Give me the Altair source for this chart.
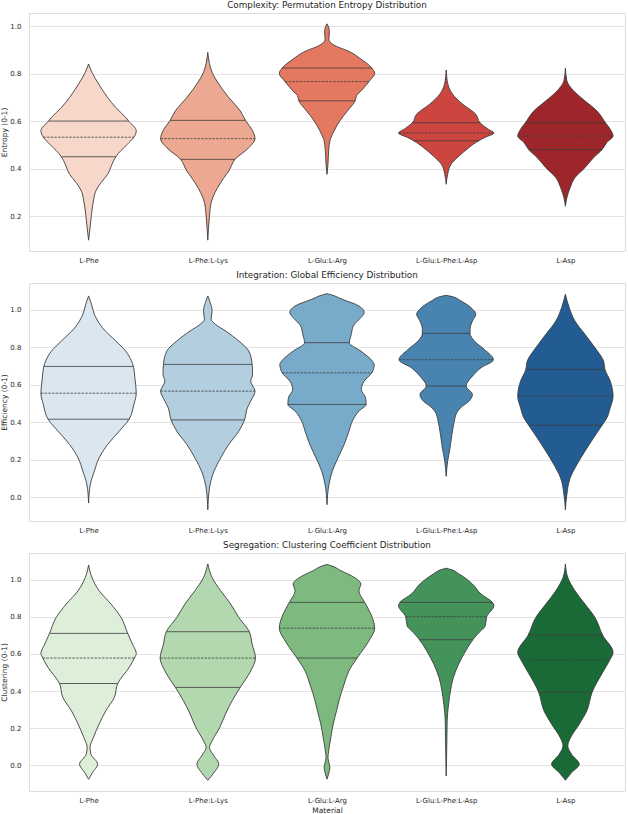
import json
import altair as alt
import pandas as pd

MATERIALS = ["L-Phe", "L-Phe:L-Lys", "L-Glu:L-Arg", "L-Glu:L-Phe:L-Asp", "L-Asp"]

# ---------- Panel 1: permutation entropy (value, relative half-width 0-1) ----------
ENT_PHE_Y = [0.100, 0.152, 0.208, 0.264, 0.306, 0.342, 0.377, 0.419, 0.451, 0.503, 0.533, 0.560, 0.601, 0.616, 0.658, 0.700, 0.757, 0.806, 0.841]
ENT_PHE_W = [0.0, 0.03, 0.06, 0.10, 0.15, 0.26, 0.40, 0.49, 0.57, 0.81, 0.95, 1.0, 0.84, 0.78, 0.57, 0.40, 0.21, 0.07, 0.0]
ENT_LYS_Y = [0.100, 0.201, 0.258, 0.300, 0.342, 0.377, 0.391, 0.440, 0.489, 0.527, 0.560, 0.604, 0.644, 0.700, 0.757, 0.806, 0.843, 0.890]
ENT_LYS_W = [0.0, 0.035, 0.07, 0.15, 0.27, 0.39, 0.44, 0.57, 0.86, 0.99, 0.94, 0.79, 0.68, 0.44, 0.23, 0.09, 0.035, 0.0]
ENT_ARG_Y = [0.377, 0.419, 0.476, 0.518, 0.560, 0.602, 0.644, 0.686, 0.708, 0.729, 0.767, 0.802, 0.824, 0.862, 0.897, 0.915, 0.930, 0.945, 0.960, 0.978, 0.995, 1.010]
ENT_ARG_W = [0.0, 0.02, 0.035, 0.06, 0.15, 0.27, 0.43, 0.59, 0.62, 0.72, 0.88, 1.0, 0.94, 0.71, 0.43, 0.20, 0.08, 0.04, 0.045, 0.05, 0.035, 0.0]
ENT_MIX_Y = [0.335, 0.377, 0.419, 0.454, 0.490, 0.518, 0.532, 0.551, 0.567, 0.594, 0.630, 0.673, 0.715, 0.757, 0.816]
ENT_MIX_W = [0.0, 0.03, 0.10, 0.27, 0.48, 0.68, 0.81, 1.0, 0.88, 0.71, 0.62, 0.34, 0.13, 0.035, 0.0]
ENT_ASP_Y = [0.243, 0.278, 0.321, 0.363, 0.405, 0.447, 0.481, 0.511, 0.538, 0.567, 0.594, 0.644, 0.686, 0.729, 0.771, 0.824]
ENT_ASP_W = [0.0, 0.03, 0.10, 0.20, 0.41, 0.59, 0.77, 0.87, 1.0, 0.94, 0.84, 0.66, 0.41, 0.17, 0.03, 0.0]
ENT_Q = [[0.451, 0.533, 0.601], [0.440, 0.527, 0.604], [0.686, 0.767, 0.824], [0.518, 0.551, 0.594], [0.481, 0.538, 0.594]]
ENT_QW = [[0.57, 0.95, 0.84], [0.57, 0.99, 0.79], [0.59, 0.88, 0.94], [0.68, 0.99, 0.71], [0.77, 0.98, 0.84]]

# ---------- Panel 2: global efficiency ----------
EFF_PHE_Y = [-0.032, 0.066, 0.138, 0.209, 0.281, 0.352, 0.416, 0.495, 0.555, 0.637, 0.698, 0.727, 0.780, 0.834, 0.905, 0.977, 1.031, 1.075]
EFF_PHE_W = [0.0, 0.035, 0.12, 0.22, 0.40, 0.64, 0.85, 0.95, 1.0, 0.97, 0.94, 0.90, 0.78, 0.57, 0.29, 0.12, 0.06, 0.0]
EFF_LYS_Y = [-0.068, 0.048, 0.138, 0.209, 0.281, 0.352, 0.412, 0.477, 0.513, 0.566, 0.620, 0.655, 0.709, 0.780, 0.834, 0.888, 0.923, 0.950, 0.995, 1.040, 1.075]
EFF_LYS_W = [0.0, 0.035, 0.13, 0.27, 0.44, 0.65, 0.77, 0.83, 0.90, 0.99, 0.90, 0.94, 0.93, 0.86, 0.65, 0.37, 0.16, 0.07, 0.09, 0.05, 0.0]
EFF_ARG_Y = [-0.041, 0.066, 0.138, 0.209, 0.281, 0.352, 0.405, 0.460, 0.495, 0.530, 0.575, 0.620, 0.664, 0.709, 0.727, 0.780, 0.825, 0.870, 0.914, 0.959, 0.986, 1.021, 1.057, 1.080, 1.087]
EFF_ARG_W = [0.0, 0.04, 0.11, 0.23, 0.36, 0.46, 0.53, 0.67, 0.82, 0.81, 0.72, 0.78, 0.94, 0.99, 0.95, 0.71, 0.47, 0.51, 0.55, 0.71, 0.78, 0.67, 0.32, 0.10, 0.0]
EFF_MIX_Y = [0.111, 0.191, 0.262, 0.334, 0.405, 0.450, 0.477, 0.513, 0.548, 0.593, 0.646, 0.691, 0.734, 0.789, 0.834, 0.875, 0.897, 0.941, 0.977, 1.012, 1.048, 1.073, 1.078]
EFF_MIX_W = [0.0, 0.03, 0.08, 0.12, 0.17, 0.22, 0.30, 0.48, 0.55, 0.42, 0.55, 0.73, 0.99, 0.80, 0.59, 0.50, 0.50, 0.55, 0.62, 0.52, 0.31, 0.10, 0.0]
EFF_ASP_Y = [-0.068, 0.013, 0.102, 0.173, 0.245, 0.316, 0.384, 0.423, 0.477, 0.539, 0.620, 0.682, 0.727, 0.798, 0.870, 0.941, 1.012, 1.084]
EFF_ASP_W = [0.0, 0.03, 0.10, 0.24, 0.41, 0.59, 0.77, 0.87, 0.94, 1.0, 0.94, 0.83, 0.80, 0.62, 0.41, 0.20, 0.08, 0.0]
EFF_Q = [[0.416, 0.555, 0.698], [0.412, 0.566, 0.709], [0.495, 0.664, 0.825], [0.593, 0.734, 0.875], [0.384, 0.539, 0.682]]
EFF_QW = [[0.85, 1.0, 0.94], [0.77, 0.99, 0.93], [0.82, 0.94, 0.47], [0.42, 0.99, 0.50], [0.77, 1.0, 0.83]]

# ---------- Panel 3: clustering coefficient ----------
CLU_PHE_Y = [-0.075, -0.039, 0.006, 0.060, 0.096, 0.150, 0.222, 0.294, 0.366, 0.441, 0.527, 0.578, 0.603, 0.653, 0.711, 0.797, 0.869, 0.941, 1.012, 1.079]
CLU_PHE_W = [0.0, 0.08, 0.19, 0.05, 0.03, 0.10, 0.22, 0.36, 0.54, 0.61, 0.85, 0.96, 1.0, 0.92, 0.82, 0.68, 0.47, 0.22, 0.07, 0.0]
CLU_LYS_Y = [-0.080, -0.039, 0.006, 0.055, 0.096, 0.132, 0.204, 0.276, 0.348, 0.420, 0.509, 0.578, 0.653, 0.720, 0.797, 0.869, 0.941, 1.012, 1.085]
CLU_LYS_W = [0.0, 0.13, 0.23, 0.12, 0.035, 0.09, 0.25, 0.37, 0.51, 0.68, 0.90, 1.0, 0.93, 0.87, 0.65, 0.48, 0.27, 0.09, 0.0]
CLU_ARG_Y = [-0.074, -0.040, -0.012, 0.015, 0.042, 0.078, 0.150, 0.222, 0.294, 0.366, 0.438, 0.509, 0.578, 0.671, 0.739, 0.815, 0.878, 0.941, 0.977, 1.013, 1.049, 1.076, 1.082]
CLU_ARG_W = [0.0, 0.04, 0.06, 0.04, 0.02, 0.035, 0.08, 0.13, 0.20, 0.27, 0.36, 0.46, 0.63, 0.88, 1.0, 0.92, 0.79, 0.67, 0.71, 0.57, 0.29, 0.08, 0.0]
CLU_MIX_Y = [-0.057, 0.150, 0.240, 0.330, 0.402, 0.473, 0.545, 0.617, 0.677, 0.716, 0.752, 0.801, 0.860, 0.878, 0.923, 0.977, 1.031, 1.055, 1.062]
CLU_MIX_W = [0.0, 0.015, 0.02, 0.05, 0.09, 0.15, 0.26, 0.41, 0.56, 0.69, 0.82, 0.85, 1.0, 0.97, 0.73, 0.55, 0.27, 0.10, 0.0]
CLU_ASP_Y = [-0.080, -0.039, 0.006, 0.060, 0.105, 0.150, 0.222, 0.294, 0.394, 0.509, 0.567, 0.608, 0.702, 0.797, 0.869, 0.941, 1.012, 1.085]
CLU_ASP_W = [0.0, 0.13, 0.29, 0.13, 0.05, 0.11, 0.29, 0.45, 0.56, 0.80, 0.93, 1.0, 0.78, 0.62, 0.41, 0.20, 0.05, 0.0]
CLU_Q = [[0.441, 0.578, 0.711], [0.420, 0.578, 0.720], [0.578, 0.739, 0.878], [0.677, 0.801, 0.878], [0.394, 0.567, 0.702]]
CLU_QW = [[0.61, 0.96, 0.82], [0.68, 1.0, 0.87], [0.63, 1.0, 0.79], [0.56, 0.85, 0.97], [0.56, 0.93, 0.78]]

REDS = ["#f6d7c9", "#eda891", "#e57860", "#cc453f", "#9e262b"]
BLUES = ["#dae6f0", "#b2cedf", "#78abc9", "#4884af", "#235c92"]
GREENS = ["#ddeed9", "#b3d7ae", "#7eba80", "#44935b", "#196a37"]

FONT = "DejaVu Sans"
TEXT = "#262626"
EDGE = "#3d3d3d"
HALF = 0.4
LABEL_EXPR = json.dumps(MATERIALS) + "[round(datum.value)]"


def profile_frame(profiles):
    rows = []
    for i, (ys, ws) in enumerate(profiles):
        for y, w in zip(ys, ws):
            rows.append({"material": MATERIALS[i], "pos": i, "v": y, "w": w})
    return pd.DataFrame(rows)


def quart_frame(qs, qws):
    rows = []
    kinds = ["quart", "median", "quart"]
    for i in range(len(MATERIALS)):
        for k in range(3):
            rows.append({"material": MATERIALS[i], "pos": i, "v": qs[i][k], "w": qws[i][k], "kind": kinds[k]})
    return pd.DataFrame(rows)


def panel(profiles, qs, qws, colors, title, ytitle, domain, ticks, xtitle=None):
    yscale = alt.Scale(domain=domain, nice=False, zero=False)
    xscale = alt.Scale(domain=[-0.5, 4.5], nice=False, zero=False)
    yaxis = alt.Axis(values=ticks, format=".1f", grid=True, ticks=False, domain=False,
                     labelFontSize=7, labelPadding=8, labelColor=TEXT, labelFont=FONT,
                     title=ytitle, titleFontSize=7.5, titleFont=FONT, titleColor=TEXT,
                     titleFontWeight="normal", titlePadding=1)
    xaxis_kwargs = dict(values=[0, 1, 2, 3, 4], labelExpr=LABEL_EXPR, grid=False, ticks=False,
                        domain=False, labelFontSize=7, labelPadding=5, labelColor=TEXT,
                        labelFont=FONT, titleFontSize=7.5, titleFont=FONT, titleColor=TEXT,
                        titleFontWeight="normal", titlePadding=3)
    xaxis = alt.Axis(title=xtitle, **xaxis_kwargs)

    area = alt.Chart(profile_frame(profiles)).transform_calculate(
        lo=f"datum.pos - {HALF} * datum.w", hi=f"datum.pos + {HALF} * datum.w"
    ).mark_area(orient="horizontal", interpolate="monotone", stroke=EDGE,
                strokeWidth=0.9, opacity=1).encode(
        y=alt.Y("v:Q", scale=yscale, axis=yaxis),
        x=alt.X("lo:Q", scale=xscale, axis=xaxis),
        x2="hi:Q",
        color=alt.Color("material:N", scale=alt.Scale(domain=MATERIALS, range=colors), legend=None),
        detail="material:N",
    )

    qdf = quart_frame(qs, qws)
    qbase = alt.Chart(qdf).transform_calculate(
        lo=f"datum.pos - {HALF} * datum.w", hi=f"datum.pos + {HALF} * datum.w"
    )
    quart = qbase.transform_filter("datum.kind == 'quart'").mark_rule(
        color=EDGE, strokeWidth=0.8).encode(
        y=alt.Y("v:Q", scale=yscale), x=alt.X("lo:Q", scale=xscale), x2="hi:Q")
    med = qbase.transform_filter("datum.kind == 'median'").mark_rule(
        color=EDGE, strokeWidth=0.8, strokeDash=[2.5, 1.2]).encode(
        y=alt.Y("v:Q", scale=yscale), x=alt.X("lo:Q", scale=xscale), x2="hi:Q")

    return alt.layer(area, quart, med).properties(
        width=596, height=238,
        title=alt.TitleParams(title, fontSize=8.8, font=FONT, fontWeight="normal",
                              color=TEXT, offset=3, anchor="middle"),
    )


p1 = panel(
    [(ENT_PHE_Y, ENT_PHE_W), (ENT_LYS_Y, ENT_LYS_W), (ENT_ARG_Y, ENT_ARG_W), (ENT_MIX_Y, ENT_MIX_W), (ENT_ASP_Y, ENT_ASP_W)],
    ENT_Q, ENT_QW, REDS, "Complexity: Permutation Entropy Distribution", "Entropy (0-1)",
    [0.0545, 1.0555], [0.2, 0.4, 0.6, 0.8, 1.0])
p2 = panel(
    [(EFF_PHE_Y, EFF_PHE_W), (EFF_LYS_Y, EFF_LYS_W), (EFF_ARG_Y, EFF_ARG_W), (EFF_MIX_Y, EFF_MIX_W), (EFF_ASP_Y, EFF_ASP_W)],
    EFF_Q, EFF_QW, BLUES, "Integration: Global Efficiency Distribution", "Efficiency (0-1)",
    [-0.128, 1.144], [0.0, 0.2, 0.4, 0.6, 0.8, 1.0])
p3 = panel(
    [(CLU_PHE_Y, CLU_PHE_W), (CLU_LYS_Y, CLU_LYS_W), (CLU_ARG_Y, CLU_ARG_W), (CLU_MIX_Y, CLU_MIX_W), (CLU_ASP_Y, CLU_ASP_W)],
    CLU_Q, CLU_QW, GREENS, "Segregation: Clustering Coefficient Distribution", "Clustering (0-1)",
    [-0.138, 1.144], [0.0, 0.2, 0.4, 0.6, 0.8, 1.0], xtitle="Material")

chart = alt.vconcat(p1, p2, p3, spacing=32, bounds="flush").resolve_scale(
    color="independent", y="independent", x="independent"
).properties(
    padding={"left": 0, "top": 0, "right": 0, "bottom": 0},
    background="white",
).configure_view(stroke="#dddddd", strokeWidth=1).configure_axis(
    gridColor="#e4e4e4", gridWidth=1
)

chart.save("out.html", embed_options={"renderer": "svg", "actions": False})
